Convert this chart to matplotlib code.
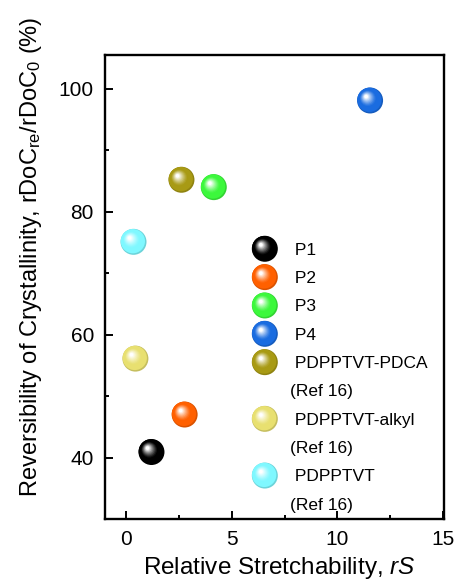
import matplotlib
matplotlib.use("Agg")
import matplotlib.pyplot as plt
import numpy as np
from matplotlib.transforms import ScaledTranslation
from matplotlib.legend_handler import HandlerBase
from matplotlib.patches import Circle
from matplotlib.lines import Line2D
from matplotlib.colors import to_rgb

plt.rcParams['font.family'] = ['Liberation Sans', 'DejaVu Sans']
plt.rcParams['mathtext.fontset'] = 'custom'
plt.rcParams['mathtext.rm'] = 'Liberation Sans'
plt.rcParams['mathtext.it'] = 'Liberation Sans:italic'

# ---- data ----
names = ['P1', 'P2', 'P3', 'P4', 'PDPPTVT-PDCA', 'PDPPTVT-alkyl', 'PDPPTVT']
has_ref = [False, False, False, False, True, True, True]
rS = [1.2, 2.77, 4.15, 11.55, 2.62, 0.44, 0.35]
reversibility = [40.9, 47.0, 84.0, 98.1, 85.2, 56.1, 75.1]
colors = ['#000000', '#FF6000', '#3CF83C', '#1A6CE0', '#A89A14', '#E8E070', '#7FF8FF']
xticks = [0, 5, 10, 15]
yticks = [40, 60, 80, 100]

# sphere look
DIAM_PX = 26.0
N_LAYERS = 14


def sphere_layers(color):
    base = np.array(to_rgb(color))
    out = []
    for i in range(N_LAYERS):
        t = i / (N_LAYERS - 1)
        scale = 1.0 - 0.86 * t
        off = 0.30 * t ** 0.7
        w = max(0.0, (t - 0.4) / 0.6) ** 1.2
        c = base * (1 - w) + np.ones(3) * w
        if i == 0:
            c = base * 0.85
        out.append((scale, -off, off, tuple(np.clip(c, 0, 1))))
    return out


fig = plt.figure(figsize=(4.59, 5.86), dpi=100)
ax = fig.add_axes([105 / 459, 1 - 519 / 586, (444 - 105) / 459, (519 - 55) / 586])

r_in = DIAM_PX / 2 / 100.0  # radius in inches
for x, y, c in zip(rS, reversibility, colors):
    for scale, dx, dy, lc in sphere_layers(c):
        tr = ax.transData + ScaledTranslation(dx * r_in, dy * r_in, fig.dpi_scale_trans)
        d_pt = DIAM_PX * scale * 0.72
        ax.scatter([x], [y], s=d_pt ** 2, color=lc, edgecolors='none',
                   transform=tr, zorder=3, clip_on=False)

ax.set_xlim(-1, 15.05)
ax.set_ylim(30, 105.5)
ax.set_xticks(xticks)
ax.set_yticks(yticks)
ax.set_xticks([2.5, 7.5, 12.5], minor=True)
ax.set_yticks([50, 70, 90], minor=True)
ax.tick_params(which='major', direction='in', length=6, width=1.4, labelsize=15, pad=8)
ax.tick_params(which='minor', direction='in', length=3, width=1.4)
ax.tick_params(top=False, right=False, which='both')
for sp in ax.spines.values():
    sp.set_linewidth(1.7)

ax.set_xlabel(r'Relative Stretchability, $\mathit{rS}$', fontsize=17.5)
ax.set_ylabel(r'Reversibility of Crystallinity, rDoC$_{\mathrm{re}}$/rDoC$_{\mathrm{0}}$ (%)',
              fontsize=17)
ax.xaxis.set_label_coords(0.513, -0.078)
ax.yaxis.set_label_coords(-0.18, 0.566)


class SphereHandler(HandlerBase):
    def create_artists(self, legend, orig_handle, xdescent, ydescent,
                       width, height, fontsize, trans):
        color = orig_handle.get_color()
        cx = width / 2 - xdescent
        cy = height / 2 - ydescent
        r = DIAM_PX / 2 * 0.72  # points
        if color == 'none':
            return [Circle((cx, cy), r, facecolor='none', edgecolor='none',
                           transform=trans)]
        arts = []
        for scale, dx, dy, lc in sphere_layers(color):
            arts.append(Circle((cx + dx * r, cy + dy * r), r * scale,
                               facecolor=lc, edgecolor='none', transform=trans))
        return arts


handles = []
labels = []
for n, c, ref in zip(names, colors, has_ref):
    handles.append(Line2D([], [], color=c))
    labels.append(' ' + n)
    if ref:
        handles.append(Line2D([], [], color='none'))
        labels.append('(Ref 16)')

leg = ax.legend(handles, labels, handler_map={Line2D: SphereHandler()},
                loc='upper left', bbox_to_anchor=(251.8 / 459, 1 - 241 / 586),
                bbox_transform=fig.transFigure, frameon=False, fontsize=12.5,
                handlelength=1.5, handleheight=1.0, handletextpad=0.72,
                labelspacing=0.67, borderpad=0, borderaxespad=0)

fig.savefig('out.png', dpi=100)
